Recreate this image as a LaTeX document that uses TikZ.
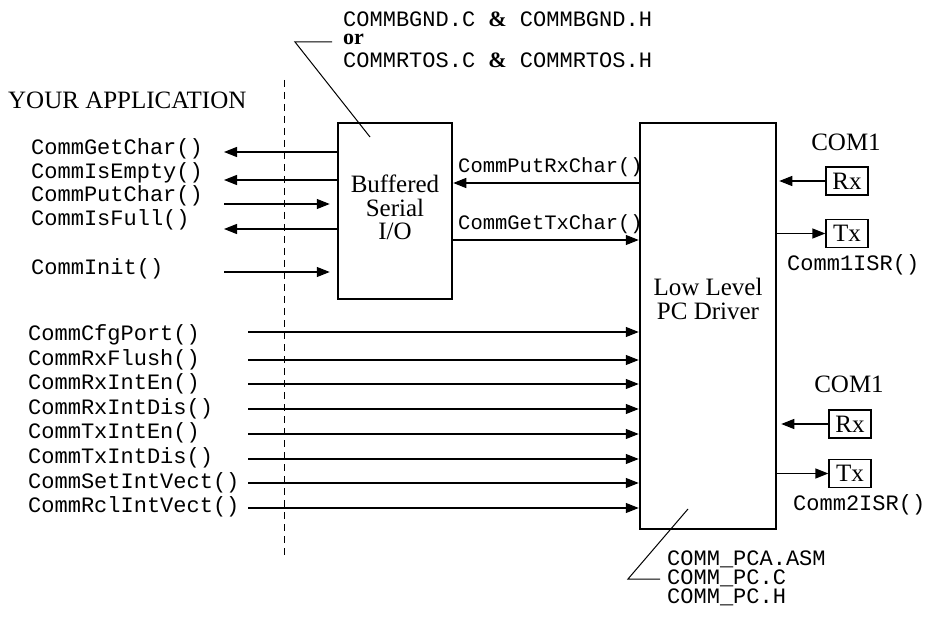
\documentclass[tikz,border=0pt]{standalone}
\usepackage{fontspec}
\setmainfont{Liberation Serif}
\setmonofont{Liberation Mono}
\usetikzlibrary{arrows.meta}
\begin{document}
\begin{tikzpicture}[x=1pt,y=-1pt,
  mono/.style={font=\fontsize{22}{22}\selectfont\ttfamily, inner sep=0pt, anchor=base west},
  smono/.style={font=\fontsize{20.5}{22}\selectfont\ttfamily, inner sep=0pt, anchor=base west},
  serif/.style={font=\fontsize{25}{23.5}\selectfont, inner sep=0pt},
  bigbox/.style={draw, line width=2.5pt, inner sep=0pt},
  pinbox/.style={draw, line width=1.2pt, minimum width=42pt, minimum height=28pt, inner sep=0pt, font=\fontsize{25}{25}\selectfont},
  conn/.style={line width=1.2pt, -{Triangle[length=13pt,width=10pt]}},
  lead/.style={line width=1pt}]
\useasboundingbox (0,0) rectangle (928,617);

% boxes
\node[bigbox, minimum width=114pt, minimum height=176pt] (bsio) at (395,211) {};
\node[bigbox, minimum width=136pt, minimum height=406pt] (lpd) at (708,326) {};
\node[serif, align=center] (bsiot) at (395,207.5) {Buffered\\Serial\\I/O};
\node[serif, align=center] (lpdt) at (708,299) {Low Level\\PC Driver};

% dashed separator
\coordinate (dtop) at (284,80);
\coordinate (dbot) at (284,557);
\draw[line width=1pt, dash pattern=on 7pt off 5pt] (dtop) -- (dbot);

% application title
\node[serif, anchor=base west] (app) at (8,109) {YOUR APPLICATION};

% top annotation
\node[font=\fontsize{22}{20.5}\selectfont\ttfamily, inner sep=0pt, align=left, anchor=base west] (ann) at (343,68)
  {COMMBGND.C {\rmfamily\bfseries\&} COMMBGND.H\\[-2.5pt]
   {\rmfamily\bfseries or}\\[2.5pt]
   COMMRTOS.C {\rmfamily\bfseries\&} COMMRTOS.H};
\coordinate (ta) at (332,42);
\coordinate (tb) at (295,42);
\coordinate (tc) at (370,137);
\draw[lead] (ta) -- (tb) -- (tc);

% left labels (buffered API)
\node[mono] (lgc) at (31,155) {CommGetChar()};
\node[mono] (lie) at (31,179) {CommIsEmpty()};
\node[mono] (lpc) at (31,202) {CommPutChar()};
\node[mono] (lif) at (31,226) {CommIsFull()};
\node[mono] (lin) at (31,275) {CommInit()};
\coordinate (egc) at (224,152);
\coordinate (eie) at (224,180);
\coordinate (epc) at (224,204);
\coordinate (eif) at (224,229);
\coordinate (ein) at (224,272);
\draw[conn] (bsio.west |- egc) -- (egc);
\draw[conn] (bsio.west |- eie) -- (eie);
\draw[conn, shorten >=7pt] (epc) -- (bsio.west |- epc);
\draw[conn] (bsio.west |- eif) -- (eif);
\draw[conn, shorten >=7pt] (ein) -- (bsio.west |- ein);

% bottom labels (driver API)
\node[mono] (l1) at (28,340) {CommCfgPort()};
\node[mono] (l2) at (28,365) {CommRxFlush()};
\node[mono] (l3) at (28,389) {CommRxIntEn()};
\node[mono] (l4) at (28,414) {CommRxIntDis()};
\node[mono] (l5) at (28,438) {CommTxIntEn()};
\node[mono] (l6) at (28,463) {CommTxIntDis()};
\node[mono] (l7) at (28,488) {CommSetIntVect()};
\node[mono] (l8) at (28,512) {CommRclIntVect()};
\coordinate (s1) at (248,332);
\coordinate (s2) at (248,360);
\coordinate (s3) at (248,384);
\coordinate (s4) at (248,409);
\coordinate (s5) at (248,434);
\coordinate (s6) at (248,459);
\coordinate (s7) at (248,483);
\coordinate (s8) at (248,508);
\foreach \s in {s1,s2,s3,s4,s5,s6,s7,s8}
  \draw[conn] (\s) -- (lpd.west |- \s);

% middle connectors
\node[smono] (prx) at (458,173) {CommPutRxChar()};
\node[smono] (gtx) at (458,230) {CommGetTxChar()};
\coordinate (mrx) at (640,183);
\coordinate (mtx) at (640,240);
\draw[conn] (lpd.west |- mrx) -- (bsio.east |- mrx);
\draw[conn] (bsio.east |- mtx) -- (lpd.west |- mtx);

% COM1 (first)
\node[serif, anchor=base] (com1) at (846,151) {COM1};
\node[pinbox] (rx1) at (847,181) {Rx};
\node[pinbox] (tx1) at (847,233.5) {Tx};
\node[mono] (isr1) at (787,271) {Comm1ISR()};
\draw[conn, shorten >=2pt] (rx1.west) -- (lpd.east |- rx1.west);
\draw[conn] (lpd.east |- tx1.west) -- (tx1.west);

% COM1 (second)
\node[serif, anchor=base] (com2) at (849,392) {COM1};
\node[pinbox] (rx2) at (850,424) {Rx};
\node[pinbox] (tx2) at (850,473.5) {Tx};
\node[mono] (isr2) at (793,510) {Comm2ISR()};
\draw[conn, shorten >=4pt] (rx2.west) -- (lpd.east |- rx2.west);
\draw[conn] (lpd.east |- tx2.west) -- (tx2.west);

% bottom annotation
\node[font=\fontsize{22}{19}\selectfont\ttfamily, inner sep=0pt, align=left, anchor=base west] (files) at (667,603)
  {COMM\_PCA.ASM\\COMM\_PC.C\\COMM\_PC.H};
\coordinate (ba) at (688,509);
\coordinate (bb) at (628,579);
\coordinate (bc) at (660,579);
\draw[lead] (ba) -- (bb) -- (bc);
\end{tikzpicture}
\end{document}
